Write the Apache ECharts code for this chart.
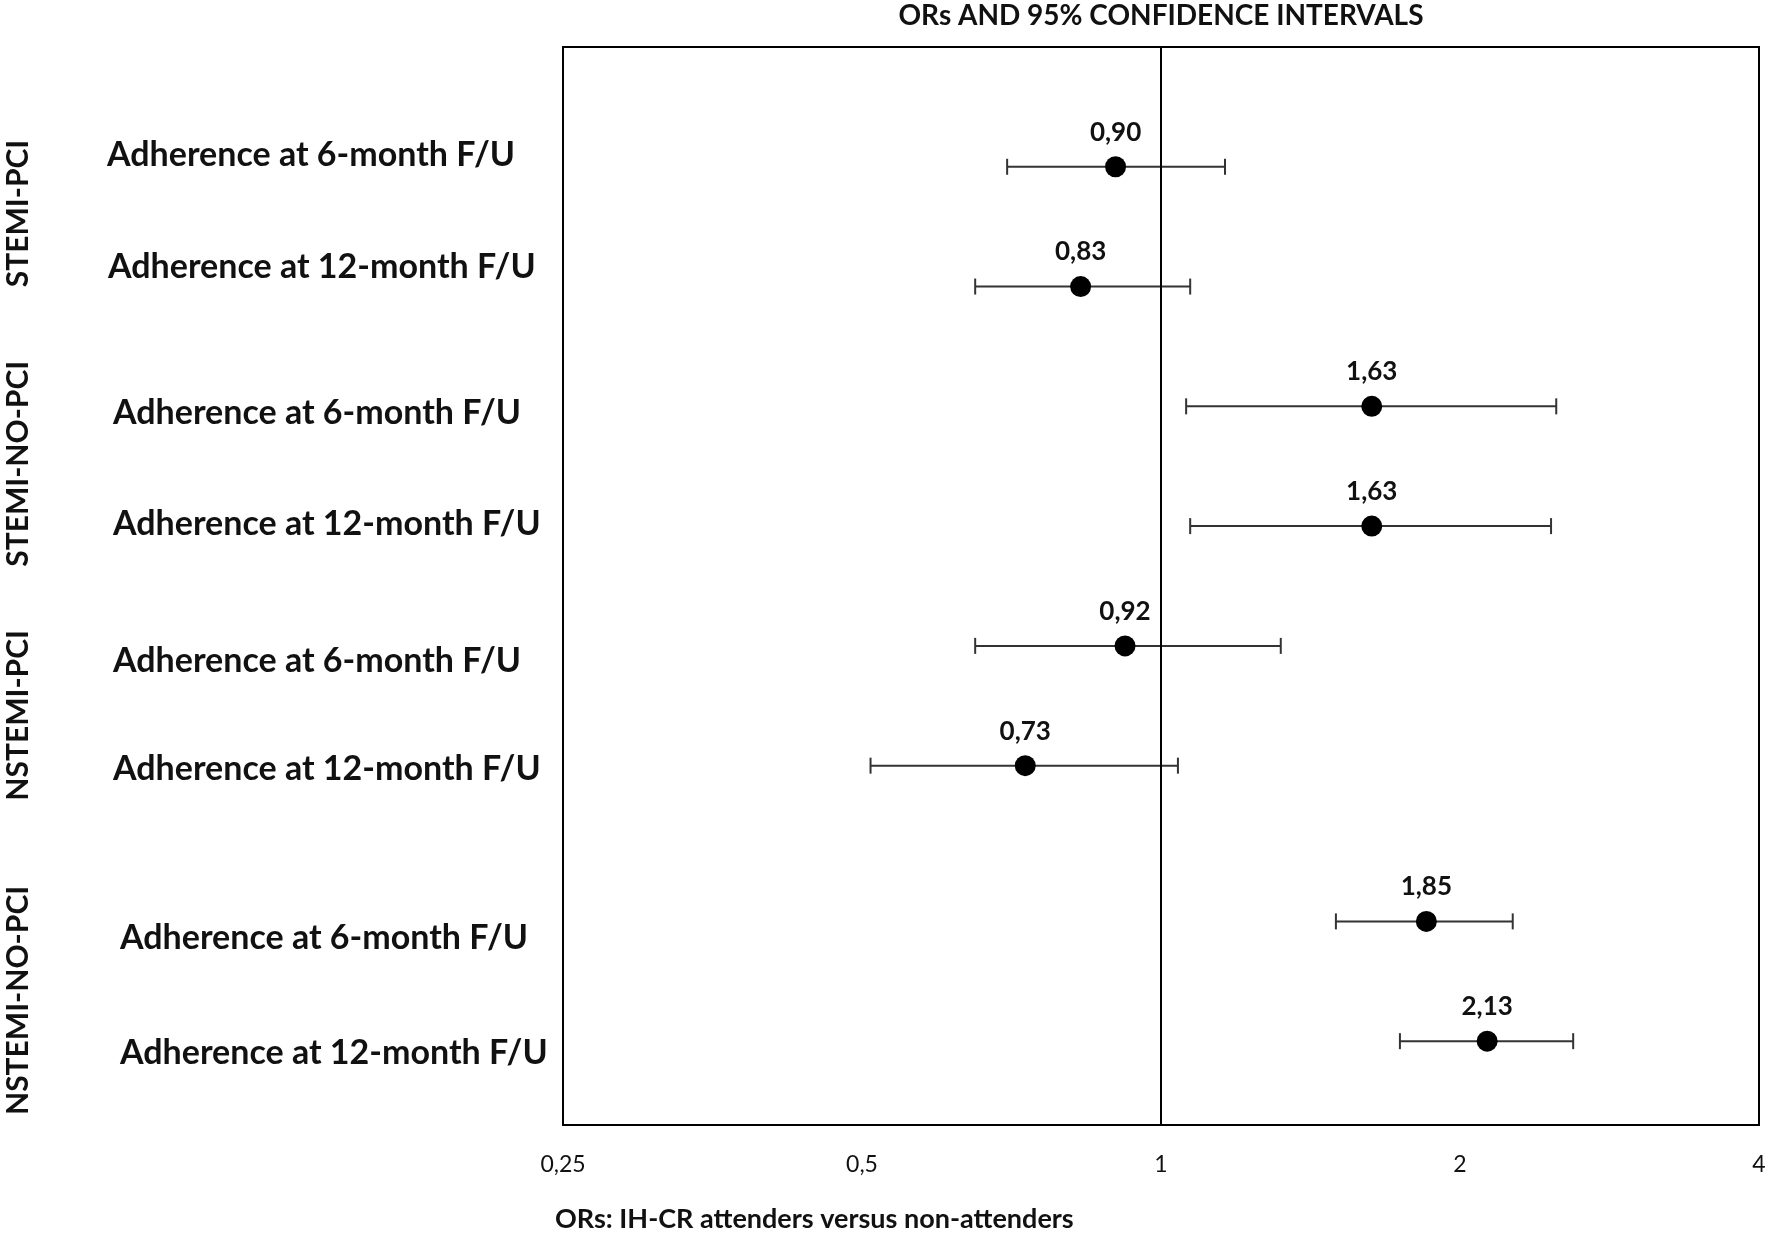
<!DOCTYPE html>
<html>
<head>
<meta charset="utf-8">
<script src="https://cdn.jsdelivr.net/npm/echarts@6/dist/echarts.min.js"></script>
<style>
html,body{margin:0;padding:0;background:#fff;}
#chart{width:1770px;height:1233px;}
</style>
</head>
<body>
<div id="chart"></div>
<script>
// ---- data ----
const groups = ['STEMI-PCI', 'STEMI-NO-PCI', 'NSTEMI-PCI', 'NSTEMI-NO-PCI'];
const rowLabels = [
  'Adherence at 6-month F/U', 'Adherence at 12-month F/U',
  'Adherence at 6-month F/U', 'Adherence at 12-month F/U',
  'Adherence at 6-month F/U', 'Adherence at 12-month F/U',
  'Adherence at 6-month F/U', 'Adherence at 12-month F/U'
];
const ors   = [0.90, 0.83, 1.63, 1.63, 0.92, 0.73, 1.85, 2.13];
const ciLow = [0.70, 0.65, 1.06, 1.07, 0.65, 0.51, 1.50, 1.74];
const ciHigh= [1.16, 1.07, 2.50, 2.47, 1.32, 1.04, 2.26, 2.60];
const xTickLabels = ['0,25', '0,5', '1', '2', '4'];
const referenceOR = 1;
const chartTitle = 'ORs AND 95% CONFIDENCE INTERVALS';
const xAxisTitle = 'ORs: IH-CR attenders versus non-attenders';

// ---- layout (row positions on the hidden y scale) ----
const rowPos = [1, 2, 3, 4, 5, 6, 7.3, 8.3];
const rowLabelPos = [0.90, 1.84, 3.06, 3.98, 5.13, 6.03, 7.44, 8.40];
const rowLabelX = [107, 108, 113, 113, 113, 113, 120, 120];
const groupPos = [1.39, 3.48, 5.58, 7.96];

const FONT = 'Lato';
const chart = echarts.init(document.getElementById('chart'));

const option = {
  animation: false,
  backgroundColor: '#fff',
  grid: {
    left: 563, right: 11, top: 47, bottom: 108,
    show: true, borderColor: '#000', borderWidth: 2, backgroundColor: 'transparent'
  },
  xAxis: {
    type: 'log', logBase: 2, min: 0.25, max: 4,
    axisLine: { show: true, onZero: false, lineStyle: { color: '#000', width: 2 } },
    axisTick: { show: false },
    splitLine: { show: false },
    axisLabel: {
      margin: 28, color: '#111', fontFamily: FONT, fontSize: 23,
      formatter: function (v) {
        const idx = Math.round(Math.log2(v / 0.25));
        return xTickLabels[idx] !== undefined ? xTickLabels[idx] : '';
      }
    }
  },
  yAxis: {
    type: 'value', inverse: true, min: 0, max: 9, show: false
  },
  series: [
    {
      type: 'custom',
      data: ciLow.map((lo, i) => [lo, ciHigh[i], rowPos[i]]),
      encode: { x: [0, 1], y: 2 },
      z: 3,
      renderItem: function (params, api) {
        const y = api.value(2);
        const p1 = api.coord([api.value(0), y]);
        const p2 = api.coord([api.value(1), y]);
        const h = 8;
        const st = { stroke: '#333', lineWidth: 2 };
        return {
          type: 'group',
          children: [
            { type: 'line', shape: { x1: p1[0], y1: p1[1], x2: p2[0], y2: p2[1] }, style: st },
            { type: 'line', shape: { x1: p1[0], y1: p1[1] - h, x2: p1[0], y2: p1[1] + h }, style: st },
            { type: 'line', shape: { x1: p2[0], y1: p2[1] - h, x2: p2[0], y2: p2[1] + h }, style: st }
          ]
        };
      }
    },
    {
      type: 'scatter',
      data: ors.map((v, i) => [v, rowPos[i]]),
      symbol: 'circle', symbolSize: 21,
      itemStyle: { color: '#000', opacity: 1 },
      z: 4,
      label: {
        show: true, position: 'top', distance: 11,
        fontFamily: FONT, fontWeight: 'bold', fontSize: 26, color: '#111',
        formatter: p => p.value[0].toFixed(2).replace('.', ',')
      },
      markLine: {
        silent: true, symbol: 'none', label: { show: false },
        lineStyle: { color: '#000', width: 2, type: 'solid' },
        data: [{ xAxis: referenceOR }]
      }
    }
  ]
};
chart.setOption(option);

// ---- text labels placed with the hidden y scale ----
const gfx = [];
gfx.push({
  type: 'text', x: 1161, y: 2,
  style: { text: chartTitle, fontFamily: FONT, fontWeight: 'bold',
           fontSize: 28, fill: '#111', textAlign: 'center', textVerticalAlign: 'top' }
});
gfx.push({
  type: 'text', x: 555, y: 1219,
  style: { text: xAxisTitle, fontFamily: FONT, fontWeight: 'bold',
           fontSize: 27, fill: '#111', textAlign: 'left', textVerticalAlign: 'middle' }
});
rowLabels.forEach((t, i) => {
  const py = chart.convertToPixel({ gridIndex: 0 }, [1, rowLabelPos[i]])[1];
  gfx.push({
    type: 'text', x: rowLabelX[i], y: py,
    style: { text: t, fontFamily: FONT, fontWeight: 'bold', fontSize: 34, fill: '#111',
             textAlign: 'left', textVerticalAlign: 'middle' }
  });
});
groups.forEach((g, i) => {
  const py = chart.convertToPixel({ gridIndex: 0 }, [1, groupPos[i]])[1];
  gfx.push({
    type: 'text', x: 18, y: py, rotation: Math.PI / 2,
    style: { text: g, fontFamily: FONT, fontWeight: 'bold', fontSize: 30, fill: '#111',
             textAlign: 'center', textVerticalAlign: 'middle' }
  });
});
chart.setOption({ graphic: gfx });
</script>
</body>
</html>
